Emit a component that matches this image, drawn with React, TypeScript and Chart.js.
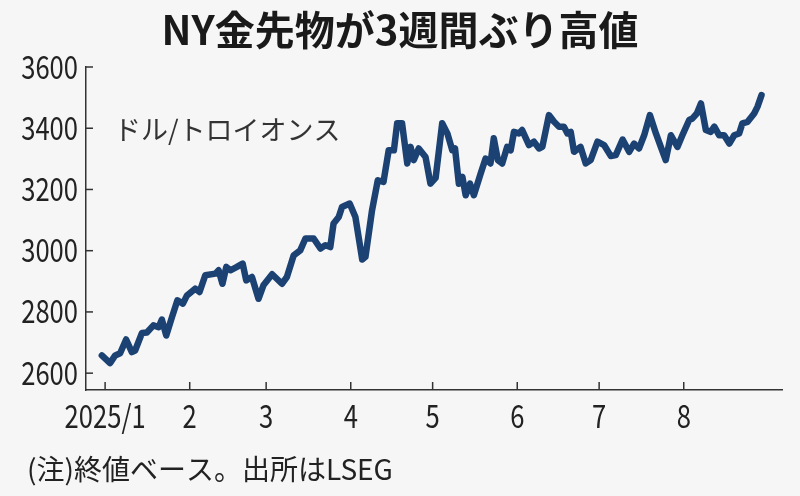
import React, { useEffect, useRef } from "react";
import { Chart, registerables } from "chart.js";

Chart.register(...registerables);

const titleText = "NY金先物が3週間ぶり高値";
const unitText = "ドル/トロイオンス";
const noteText = "(注)終値ベース。出所はLSEG";

// day of year, Jan 1 = 0
const days = [
  -1.2, 1.8, 3.7, 5.5, 7.7, 9.8, 11, 13.5, 15.3, 17.7, 19.6, 20.8, 22.4, 24.5, 26.5, 28.5,
  30, 33, 34.6, 36.7, 40.4, 41.6, 43, 44.4, 45.9, 48.3, 50.4, 51.7, 53.8, 56.2, 58, 61.2,
  64.8, 66.6, 69.1, 71.5, 73.4, 76.4, 78.9, 80.7, 82.5, 83.7, 85.6, 86.8, 89.6, 91.7,
  94.2, 95.4, 97.8, 99.9, 102, 103.9, 105.8, 107, 108.8, 110.7, 111.9, 113.1, 114.9,
  117.4, 119.2, 121.1, 123.5, 125.4, 127.2, 128.2, 129.6, 130.9, 132.1, 133.7, 135.1,
  137.6, 139.4, 141.2, 142.4, 143.9, 145.5, 147.3, 148.6, 149.8, 151.6, 152.8, 155.3,
  157.1, 159, 160.2, 162.6, 164.5, 166.3, 168.1, 169.4, 170.6, 171.8, 174.2, 176.1,
  177.9, 180.4, 182.8, 185.3, 187.1, 189.6, 192, 193.8, 195.6, 197.5, 199.6, 201.8,
  203.6, 205.4, 207.3, 209.7, 211.5, 214, 215.2, 216.8, 218.3, 220.1, 221.9, 223.2,
  225, 226.8, 228.7, 230.5, 232.3, 233.5, 235.4, 237.8, 239, 240.5,
];

const prices = [
  2658, 2633, 2658, 2665, 2710, 2669, 2674, 2731, 2733, 2756, 2750, 2775, 2723, 2783, 2838, 2827,
  2854, 2876, 2865, 2920, 2925, 2936, 2892, 2947, 2936, 2947, 2958, 2903, 2914, 2843, 2887, 2923,
  2892, 2914, 2985, 3001, 3040, 3040, 3007, 3018, 3012, 3089, 3110, 3143, 3154, 3110,
  2971, 2980, 3132, 3230, 3225, 3328, 3328, 3416, 3416, 3285, 3339, 3296, 3334,
  3306, 3219, 3238, 3416, 3383, 3328, 3334, 3219, 3241, 3181, 3219, 3181,
  3252, 3301, 3285, 3367, 3296, 3285, 3339, 3328, 3388, 3383, 3394, 3345,
  3356, 3334, 3339, 3443, 3421, 3405, 3405, 3383, 3388, 3323, 3339, 3285,
  3296, 3356, 3345, 3309, 3312, 3363, 3323, 3350, 3334, 3377, 3443, 3383,
  3339, 3296, 3377, 3339, 3377, 3427, 3432, 3448, 3481, 3394, 3388, 3405,
  3377, 3377, 3350, 3377, 3383, 3416, 3421, 3448, 3470, 3508,
];

const monthStarts = [0, 31, 59, 90, 120, 151, 181, 212];
const monthLabels = ["2025/1", "2", "3", "4", "5", "6", "7", "8"];
const yTicks = [2600, 2800, 3000, 3200, 3400, 3600];

const jpFont = "'Noto Sans CJK JP', 'Noto Sans', sans-serif";

// the reference uses condensed digits, so tick labels are squeezed horizontally
const squeeze = 0.8;

const decorPlugin = {
  id: "decor",
  beforeDatasetsDraw(chart: any) {
    const { ctx, chartArea, scales } = chart;
    ctx.save();
    ctx.strokeStyle = "#333";
    ctx.lineWidth = 1.5;
    // inward tick marks
    yTicks.forEach((v) => {
      const y = scales.y.getPixelForValue(v);
      ctx.beginPath();
      ctx.moveTo(chartArea.left, y);
      ctx.lineTo(chartArea.left + 7, y);
      ctx.stroke();
    });
    monthStarts.forEach((v) => {
      const x = scales.x.getPixelForValue(v);
      ctx.beginPath();
      ctx.moveTo(x, chartArea.bottom);
      ctx.lineTo(x, chartArea.bottom - 8);
      ctx.stroke();
    });
    ctx.restore();
  },
  afterDraw(chart: any) {
    const { ctx, chartArea, scales } = chart;
    ctx.save();

    // tick labels
    ctx.fillStyle = "#222";
    ctx.font = `32px ${jpFont}`;
    ctx.textBaseline = "alphabetic";
    ctx.textAlign = "right";
    yTicks.forEach((v) => {
      const y = scales.y.getPixelForValue(v);
      ctx.save();
      ctx.translate(chartArea.left - 8, y + 11.5);
      ctx.scale(squeeze, 1);
      ctx.fillText(String(v), 0, 0);
      ctx.restore();
    });
    ctx.textAlign = "center";
    monthStarts.forEach((v, i) => {
      const x = scales.x.getPixelForValue(v);
      ctx.save();
      ctx.translate(x, chartArea.bottom + 38);
      ctx.scale(squeeze, 1);
      ctx.fillText(monthLabels[i], 0, 0);
      ctx.restore();
    });

    ctx.textBaseline = "middle";
    ctx.fillStyle = "#1a1a1a";
    ctx.textAlign = "center";
    ctx.font = `bold 40px ${jpFont}`;
    ctx.fillText(titleText, 400, 30);

    ctx.textAlign = "left";
    ctx.fillStyle = "#333";
    ctx.font = `27px ${jpFont}`;
    ctx.fillText(unitText, 114, 130);

    ctx.fillStyle = "#222";
    ctx.font = `28px ${jpFont}`;
    ctx.fillText(noteText, 27, 469);
    ctx.restore();
  },
};

const App: React.FC = () => {
  const chartRef = useRef<HTMLCanvasElement | null>(null);
  const chartInstance = useRef<Chart | null>(null);

  useEffect(() => {
    document.body.style.margin = "0";
    const ctx = chartRef.current?.getContext("2d");
    if (!ctx) return;

    chartInstance.current = new Chart(ctx, {
      type: "line",
      data: {
        datasets: [
          {
            data: days.map((d, i) => ({ x: d, y: prices[i] })),
            borderColor: "#1b4273",
            borderWidth: 6.5,
            borderJoinStyle: "round",
            borderCapStyle: "round",
            pointRadius: 0,
            tension: 0,
            fill: false,
          },
        ],
      },
      options: {
        animation: false,
        responsive: true,
        maintainAspectRatio: false,
        layout: { padding: { top: 67, right: 18, left: 0, bottom: 0 } },
        plugins: {
          legend: { display: false },
          tooltip: { enabled: false },
          title: { display: false },
        },
        scales: {
          x: {
            type: "linear",
            min: -7,
            max: 248,
            afterFit: (scale: any) => {
              scale.height = 106;
            },
            afterBuildTicks: (scale: any) => {
              scale.ticks = monthStarts.map((v) => ({ value: v }));
            },
            ticks: { display: false },
            grid: { display: false, drawTicks: false },
            border: { display: true, color: "#333", width: 1.5 },
          },
          y: {
            min: 2545,
            max: 3600,
            afterFit: (scale: any) => {
              scale.width = 86;
            },
            ticks: { display: false, stepSize: 200, includeBounds: false },
            grid: { display: false, drawTicks: false },
            border: { display: true, color: "#333", width: 1.5 },
          },
        },
      },
      plugins: [decorPlugin],
    });

    return () => {
      if (chartInstance.current) {
        chartInstance.current.destroy();
        chartInstance.current = null;
      }
    };
  }, []);

  return (
    <div style={{ width: 800, height: 496, background: "#f6f6f6", position: "relative" }}>
      <canvas ref={chartRef}></canvas>
    </div>
  );
};

export default App;
